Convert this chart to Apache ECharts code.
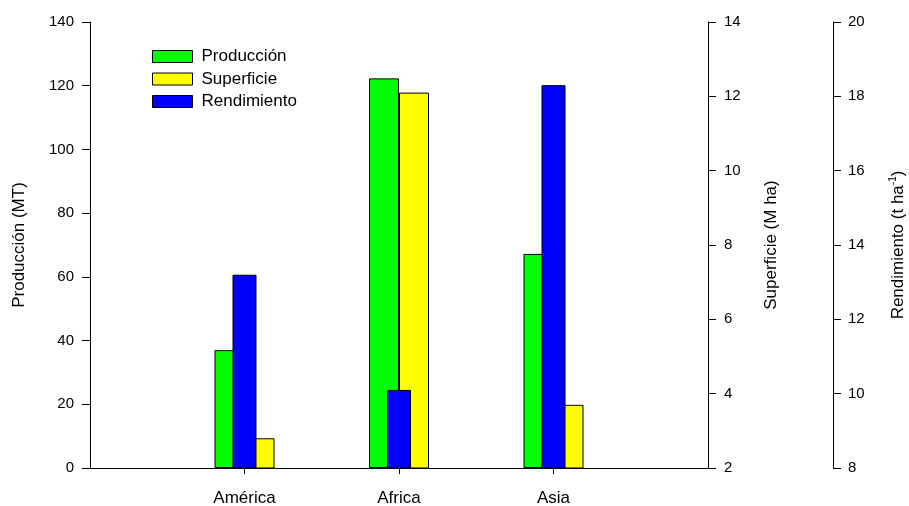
<!DOCTYPE html>
<html>
<head>
<meta charset="utf-8">
<script src="https://cdn.jsdelivr.net/npm/echarts@6/dist/echarts.min.js"></script>
<style>
  html, body { margin: 0; padding: 0; background: #fff; overflow: hidden; }
  #chart { width: 909px; height: 506px; }
</style>
</head>
<body>
<div id="chart"></div>
<script>
// Regions on the horizontal axis
const categories = ['América', 'Africa', 'Asia'];
// Producción (MT), left axis
const produccion = [37.0, 122.3, 67.2];
// Superficie (M ha), first right axis
const superficie = [2.8, 12.1, 3.7];
// Rendimiento (t ha-1), second right axis
const rendimiento = [13.2, 10.1, 18.3];

// Tick values of the three vertical axes
const prodTicks = { min: 0, max: 140, step: 20 };
const supTicks = { min: 2, max: 14, step: 2 };
const rendTicks = { min: 8, max: 20, step: 2 };

// Empty slots at both ends leave a half-gap before the first and after the last region
const pad = arr => [null].concat(arr, [null]);
const axisCats = pad(categories).map(c => c || '');

const FONT = 'Liberation Sans, Arial, sans-serif';
const TXT = { color: '#000', fontFamily: FONT, fontSize: 17 };
const TICK_TXT = { color: '#000', fontFamily: FONT, fontSize: 15 };
const edge = { borderColor: '#000', borderWidth: 1 };

const chart = echarts.init(document.getElementById('chart'));

const yAxisBase = {
  type: 'value',
  nameLocation: 'middle',
  splitLine: { show: false },
  axisLine: { show: true, lineStyle: { color: '#000', width: 1 } },
  axisTick: { show: true, length: 8, lineStyle: { color: '#000' } },
  axisLabel: Object.assign({ margin: 16 }, TICK_TXT),
  nameTextStyle: Object.assign({}, TXT)
};

chart.setOption({
  animation: false,
  backgroundColor: '#fff',
  textStyle: { fontFamily: FONT },
  grid: { left: 90, right: 201, top: 22, bottom: 38, outerBoundsMode: 'none', containLabel: false },
  legend: {
    orient: 'vertical',
    left: 152,
    top: 48,
    padding: 0,
    itemWidth: 40,
    itemHeight: 12,
    itemGap: 5.5,
    icon: 'rect',
    itemStyle: { borderWidth: 1, borderColor: '#000' },
    textStyle: Object.assign({ lineHeight: 14, padding: [0, 0, 0, 4] }, TXT),
    data: ['Producción', 'Superficie', 'Rendimiento']
  },
  xAxis: [
    {
      type: 'category',
      data: axisCats,
      boundaryGap: false,
      axisLine: { show: true, onZero: false, lineStyle: { color: '#000', width: 1 } },
      axisTick: {
        show: true, length: 6, lineStyle: { color: '#000' },
        interval: (i) => i > 0 && i < axisCats.length - 1
      },
      axisLabel: Object.assign({ margin: 22, interval: 0 }, TXT),
      splitLine: { show: false }
    },
    {
      type: 'category',
      data: axisCats,
      boundaryGap: false,
      show: false
    }
  ],
  yAxis: [
    Object.assign({}, yAxisBase, {
      position: 'left',
      name: 'Producción (MT)',
      nameGap: 62,
      min: prodTicks.min, max: prodTicks.max, interval: prodTicks.step
    }),
    Object.assign({}, yAxisBase, {
      position: 'right',
      name: 'Superficie (M ha)',
      nameGap: 55,
      min: supTicks.min, max: supTicks.max, interval: supTicks.step
    }),
    Object.assign({}, yAxisBase, {
      position: 'right',
      offset: 125,
      name: '{a|Rendimiento (t ha}{s|-1}{a|)}',
      nameGap: 55,
      nameTextStyle: {
        rich: {
          a: Object.assign({ lineHeight: 20 }, TXT),
          s: { color: '#000', fontFamily: FONT, fontSize: 10, lineHeight: 20, verticalAlign: 'top' }
        }
      },
      axisLabel: Object.assign({ margin: 15 }, TICK_TXT),
      min: rendTicks.min, max: rendTicks.max, interval: rendTicks.step
    })
  ],
  series: [
    {
      name: 'Producción',
      type: 'bar',
      xAxisIndex: 0,
      yAxisIndex: 0,
      barWidth: 30,
      barGap: 0,
      clip: true,
      itemStyle: Object.assign({ color: '#00ff00' }, edge),
      data: pad(produccion)
    },
    {
      name: 'Superficie',
      type: 'bar',
      xAxisIndex: 0,
      yAxisIndex: 1,
      barWidth: 30,
      barGap: 0,
      clip: true,
      itemStyle: Object.assign({ color: '#ffff00' }, edge),
      data: pad(superficie)
    },
    {
      name: 'Rendimiento',
      type: 'bar',
      xAxisIndex: 1,
      yAxisIndex: 2,
      barWidth: 24,
      clip: true,
      z: 3,
      itemStyle: Object.assign({ color: '#0000ff' }, edge),
      data: pad(rendimiento)
    }
  ]
});
</script>
</body>
</html>
